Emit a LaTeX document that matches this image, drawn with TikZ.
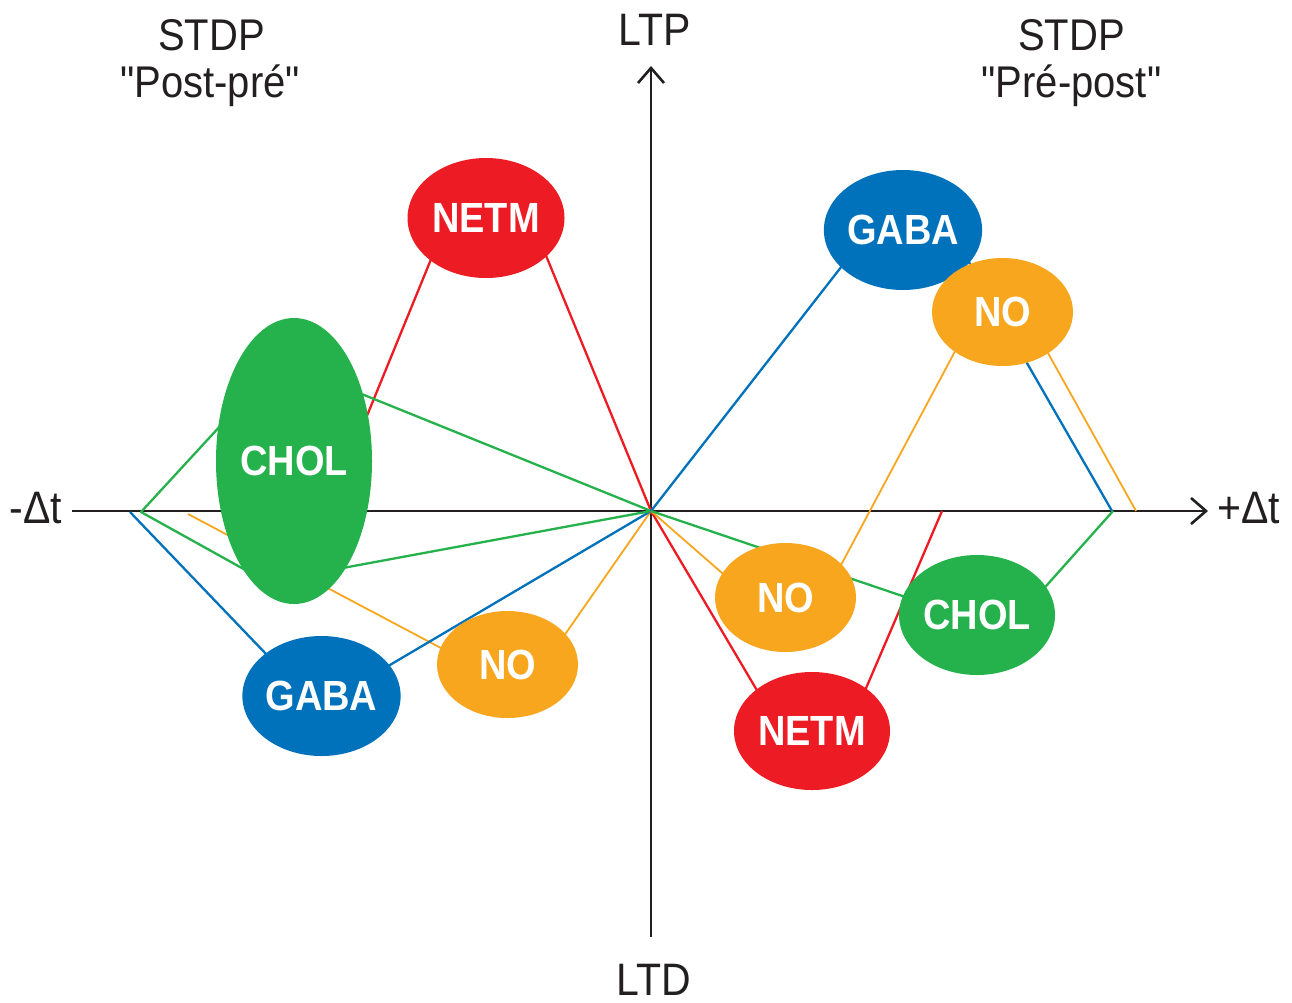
\documentclass[tikz,border=0pt]{standalone}
\usepackage{fontspec}
\setmainfont{Liberation Sans}[Ligatures=TeXOff]
\usepackage{graphicx}
\usetikzlibrary{shapes.geometric,arrows.meta}
\definecolor{cred}{RGB}{237,28,36}
\definecolor{cblue}{RGB}{0,114,188}
\definecolor{cgreen}{RGB}{37,177,76}
\definecolor{corange}{RGB}{247,166,30}
\definecolor{axisc}{RGB}{35,31,32}
\newcommand{\vstretch}[1]{\scalebox{1}[1.11]{#1}}
\begin{document}
\begin{tikzpicture}[x=1pt,y=-1pt,
  blob/.style={ellipse, inner sep=0pt, text=white, font=\fontsize{38}{40}\selectfont\bfseries},
  lbl/.style={anchor=base, inner sep=0pt, text=axisc, font=\fontsize{40}{44}\selectfont},
  link/.style={line width=2.3pt, line join=round},
  olink/.style={line width=1.8pt, line join=round, draw=corange},
  axisline/.style={line width=2.8pt, draw=axisc, -{Straight Barb[length=15pt,width=26pt,line width=2.6pt]}}
]
\fill[white] (0,0) rectangle (1292,1002);
\path[use as bounding box] (0,0) rectangle (1292,1002);

% axes
\coordinate (O) at (651,511);
\coordinate (xL) at (72,511);
\coordinate (xR) at (1208,511);
\coordinate (yT) at (651,66);
\coordinate (yB) at (651,937);
\draw[axisline] (xL) -- (xR);
\draw[axisline] (yB) -- (yT);

% connector corner points
\coordinate (gA) at (141,512);
\coordinate (gU) at (280,361);
\coordinate (gD) at (267,582);
\coordinate (rL0) at (328,511);
\coordinate (rL1) at (443,230);
\coordinate (rL2) at (535.5,230);
\coordinate (bL0) at (130,512);
\coordinate (bL1) at (317.5,707.7);
\coordinate (oL0) at (188,514);
\coordinate (oL1) at (524.6,692.4);
\coordinate (bR1) at (870,230);
\coordinate (bR2) at (962,250);
\coordinate (bR3) at (1112,511);
\coordinate (oR1) at (800.3,641.3);
\coordinate (oR2) at (1000,267);
\coordinate (oR3) at (1136,511);
\coordinate (gR1) at (1006,631);
\coordinate (gR2) at (1113,511);
\coordinate (rR1) at (774.5,720);
\coordinate (rR2) at (852.4,720);
\coordinate (rR3) at (942,511);

% connectors
\draw[link, cred] (rL0) -- (rL1) -- (rL2) -- (O);
\draw[olink] (oL0) -- (oL1) -- (O);
\draw[link, cblue] (bL0) -- (bL1) -- (O);
\draw[link, cgreen] (O) -- (gU) -- (gA) -- (gD) -- (O);
\draw[link, cred] (O) -- (rR1) -- (rR2) -- (rR3);
\draw[olink] (O) -- (oR1) -- (oR2) -- (oR3);
\draw[link, cblue] (O) -- (bR1) -- (bR2) -- (bR3);
\draw[link, cgreen] (O) -- (gR1) -- (gR2);

% ellipses
\node[blob, fill=cred, minimum width=157pt, minimum height=120pt] (netmL) at (486,218) {\vstretch{NETM}};
\node[blob, fill=cgreen, minimum width=156pt, minimum height=286pt] (cholL) at (294,461) {\vstretch{CHOL}};
\node[blob, fill=cblue, minimum width=157pt, minimum height=120pt] (gabaL) at (321.5,696) {\vstretch{GABA}};
\node[blob, fill=corange, minimum width=141pt, minimum height=107pt] (noL) at (507.5,664.5) {\vstretch{NO}};
\node[blob, fill=cblue, minimum width=156pt, minimum height=120pt] (gabaR) at (903,230) {\vstretch{GABA}};
\node[blob, fill=corange, minimum width=141pt, minimum height=108pt] (noRt) at (1002.5,312) {\vstretch{NO}};
\node[blob, fill=corange, minimum width=141pt, minimum height=109pt] (noRb) at (785.5,597.5) {\vstretch{NO}};
\node[blob, fill=cgreen, minimum width=156pt, minimum height=120pt] (cholR) at (977,615) {\vstretch{CHOL}};
\node[blob, fill=cred, minimum width=156pt, minimum height=118pt] (netmR) at (812,731) {\vstretch{NETM}};

% labels
\node[lbl] (stdpL) at (211.5,50) {\vstretch{STDP}};
\node[lbl] (postpre) at (210,97) {\vstretch{"Post-pré"}};
\node[lbl] (stdpR) at (1071.5,50) {\vstretch{STDP}};
\node[lbl] (prepost) at (1071.5,97) {\vstretch{"Pré-post"}};
\node[lbl, font=\fontsize{41}{44}\selectfont] (ltp) at (654.5,45) {\vstretch{LTP}};
\node[lbl, font=\fontsize{41}{44}\selectfont] (ltd) at (653.5,995) {\vstretch{LTD}};
\node[lbl, font=\fontsize{41}{44}\selectfont] (dtm) at (36,523) {\vstretch{-Δt}};
\node[lbl, font=\fontsize{41}{44}\selectfont] (dtp) at (1248.5,523) {\vstretch{+Δt}};
\end{tikzpicture}
\end{document}
